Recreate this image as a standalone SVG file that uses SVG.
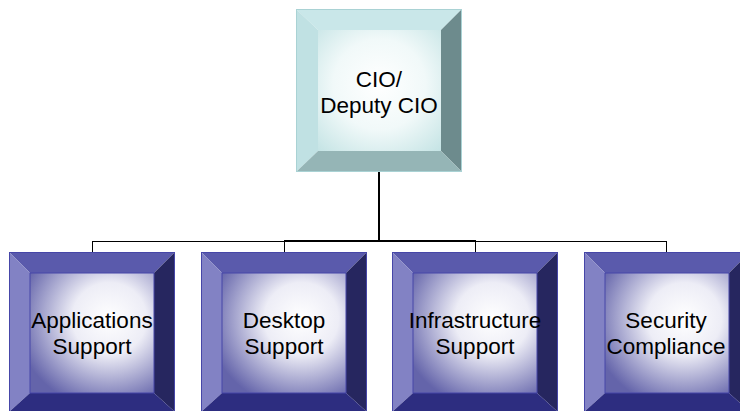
<svg xmlns="http://www.w3.org/2000/svg" width="740" height="411" viewBox="0 0 740 411">
<style>
.lbl{font-family:"Liberation Sans",Arial,sans-serif;font-size:22.5px;fill:#000;text-anchor:middle}
.conn{stroke:#000;fill:none}
.bt{fill:#5a5aac}.bl{fill:#8282c4}.br{fill:#26265f}.bb{fill:#2d2d80}
.bin{fill:url(#gB)}
.bedge{fill:none;stroke:#4646a8;stroke-width:1}
.tt{fill:#c9e7e9}.tl{fill:#c0e1e3}.tr{fill:#6d8b8d}.tb{fill:#95b5b6}
.tin{fill:url(#gT)}
.tedge{fill:none;stroke:#a9d2d4;stroke-width:1}
</style>
<defs>
<radialGradient id="gB" cx="0.64" cy="0.38" r="0.75">
<stop offset="0" stop-color="#ffffff"/>
<stop offset="0.4" stop-color="#ededf6"/>
<stop offset="1" stop-color="#6464aa"/>
</radialGradient>
<radialGradient id="gT" cx="0.5" cy="0.45" r="0.75">
<stop offset="0" stop-color="#ffffff"/>
<stop offset="0.5" stop-color="#f1f9f9"/>
<stop offset="1" stop-color="#c3e3e4"/>
</radialGradient>
</defs>

<g id="connectors">
<line class="conn" x1="379" y1="172" x2="379" y2="241" stroke-width="2"/>
<line class="conn" x1="92" y1="241.5" x2="667" y2="241.5" stroke-width="1"/>
<line class="conn" x1="284" y1="241" x2="476" y2="241" stroke-width="2"/>
<line class="conn" x1="92.5" y1="241" x2="92.5" y2="253" stroke-width="1"/>
<line class="conn" x1="284.5" y1="241" x2="284.5" y2="253" stroke-width="1"/>
<line class="conn" x1="475.5" y1="241" x2="475.5" y2="253" stroke-width="1"/>
<line class="conn" x1="666.5" y1="241" x2="666.5" y2="253" stroke-width="1"/>
</g>

<g id="cio">
<polygon class="tt" points="296,9 462,9 441,30 318,30"/>
<polygon class="tl" points="296,9 318,30 318,151 296,172"/>
<polygon class="tr" points="462,9 462,172 441,151 441,30"/>
<polygon class="tb" points="296,172 318,151 441,151 462,172"/>
<rect class="tin" x="318" y="30" width="123" height="121"/>
<rect class="tedge" x="296.5" y="9.5" width="165" height="162"/>
<text class="lbl" x="379" y="87">CIO/</text>
<text class="lbl" x="379" y="113">Deputy CIO</text>
</g>

<g id="apps">
<polygon class="bt" points="9,252 175,252 154,273 30,273"/>
<polygon class="bl" points="9,252 30,273 30,393 9,412"/>
<polygon class="br" points="175,252 175,412 154,393 154,273"/>
<polygon class="bb" points="9,412 30,393 154,393 175,412"/>
<rect class="bin" x="30" y="273" width="124" height="120"/>
<rect class="bedge" x="9.5" y="252.5" width="165" height="160"/>
<rect class="bedge" x="30" y="273" width="124" height="120"/>
<text class="lbl" x="92" y="328">Applications</text>
<text class="lbl" x="92" y="354">Support</text>
</g>

<g id="desktop">
<polygon class="bt" points="201,252 367,252 346,273 222,273"/>
<polygon class="bl" points="201,252 222,273 222,393 201,412"/>
<polygon class="br" points="367,252 367,412 346,393 346,273"/>
<polygon class="bb" points="201,412 222,393 346,393 367,412"/>
<rect class="bin" x="222" y="273" width="124" height="120"/>
<rect class="bedge" x="201.5" y="252.5" width="165" height="160"/>
<rect class="bedge" x="222" y="273" width="124" height="120"/>
<text class="lbl" x="284" y="328">Desktop</text>
<text class="lbl" x="284" y="354">Support</text>
</g>

<g id="infra">
<polygon class="bt" points="392,252 558,252 537,273 413,273"/>
<polygon class="bl" points="392,252 413,273 413,393 392,412"/>
<polygon class="br" points="558,252 558,412 537,393 537,273"/>
<polygon class="bb" points="392,412 413,393 537,393 558,412"/>
<rect class="bin" x="413" y="273" width="124" height="120"/>
<rect class="bedge" x="392.5" y="252.5" width="165" height="160"/>
<rect class="bedge" x="413" y="273" width="124" height="120"/>
<text class="lbl" x="475" y="328">Infrastructure</text>
<text class="lbl" x="475" y="354">Support</text>
</g>

<g id="security">
<polygon class="bt" points="584,252 750,252 729,273 605,273"/>
<polygon class="bl" points="584,252 605,273 605,393 584,412"/>
<polygon class="br" points="750,252 750,412 729,393 729,273"/>
<polygon class="bb" points="584,412 605,393 729,393 750,412"/>
<rect class="bin" x="605" y="273" width="124" height="120"/>
<rect class="bedge" x="584.5" y="252.5" width="165" height="160"/>
<rect class="bedge" x="605" y="273" width="124" height="120"/>
<text class="lbl" x="666" y="328">Security</text>
<text class="lbl" x="666" y="354">Compliance</text>
</g>
</svg>
